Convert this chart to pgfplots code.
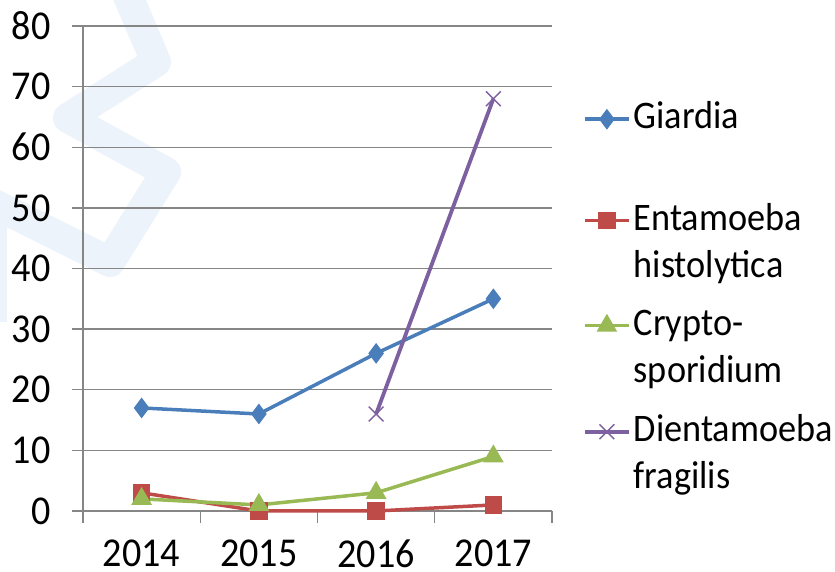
\documentclass[border=0pt]{standalone}
\usepackage{fontspec}
\setmainfont{Carlito}[FakeStretch=0.93]
\usepackage{pgfplots}
\pgfplotsset{compat=1.18}
\definecolor{cGia}{HTML}{4A7EBB}
\definecolor{cEnt}{HTML}{BE4B48}
\definecolor{cCry}{HTML}{98B954}
\definecolor{cDie}{HTML}{7D60A0}
\definecolor{gridc}{HTML}{868686}
\definecolor{wm}{HTML}{ECF3FA}
\newcommand{\st}[1]{\rule{0pt}{#1}}
\begin{document}
\begin{tikzpicture}[x=1pt,y=1pt]
\path[use as bounding box] (0,0) rectangle (835,572);
\draw[wm, line width=30pt, line join=round, line cap=round] (122,590) -- (156,510) -- (68,454) -- (166,400) -- (110,310) -- (-10,370);
\fill[wm] (-5,250) rectangle (7,372);
\begin{axis}[at={(83pt,61pt)}, anchor=south west, scale only axis,
  width=469pt, height=485pt,
  xmin=-0.5, xmax=3.5, ymin=0, ymax=80,
  xtick={0,1,2,3}, xticklabels={2014,2015,2016,2017},
  minor xtick={-0.5,0.5,1.5,2.5,3.5},
  ytick={0,10,...,80},
  axis lines*=left,
  axis line style={-, draw=gridc, line width=1.3pt},
  ymajorgrids,
  major grid style={draw=gridc, line width=1.3pt},
  tick align=outside,
  major tick length=11pt, minor tick length=12pt,
  major x tick style={draw=none},
  minor x tick style={draw=gridc, line width=1.3pt},
  major y tick style={draw=gridc, line width=1.3pt},
  tick label style={font=\fontsize{41}{48}\selectfont},
  yticklabel style={xshift=-18pt},
  xticklabel style={yshift=-14pt},
  /pgf/number format/assume math mode=true,
  clip=false,
  legend cell align=left,
  legend style={at={(1.0661,0.850)}, anchor=north west, draw=none, fill=none,
    inner sep=0pt, outer sep=0pt, font=\fontsize{39}{46}\selectfont,
    row sep=0pt, column sep=3pt, nodes={inner sep=0pt, outer sep=0pt},
    cells={anchor=base west}},
  legend image code/.code={\draw[mark repeat=2, mark phase=2, yshift=9.5pt] plot coordinates {(0pt,0pt) (22pt,0pt) (44pt,0pt)};},
]
\addplot[cGia, line width=3.5pt, mark=diamond*, mark size=7.5pt, mark options={solid}] coordinates {(0,17) (1,16) (2,26) (3,35)};
\addlegendentry{\st{30pt}Giardia}
\addplot[cEnt, line width=3.5pt, mark=square*, mark size=7pt] coordinates {(0,3) (1,0) (2,0) (3,1)};
\addlegendentry{\st{100pt}Entamoeba}
\addlegendimage{empty legend}
\addlegendentry{\st{46pt}histolytica}
\addplot[cCry, line width=3.5pt, mark=triangle*, mark size=8.5pt] coordinates {(0,2) (1,1) (2,3) (3,9)};
\addlegendentry{\st{56pt}Crypto-}
\addlegendimage{empty legend}
\addlegendentry{\st{46pt}sporidium}
\addplot[cDie, line width=3.8pt, mark=x, mark size=10.5pt, mark options={line width=1.5pt}] coordinates {(2,16) (3,68)};
\addlegendentry{\st{57pt}Dientamoeba}
\addlegendimage{empty legend}
\addlegendentry{\st{46pt}fragilis}
\end{axis}
\end{tikzpicture}
\end{document}
